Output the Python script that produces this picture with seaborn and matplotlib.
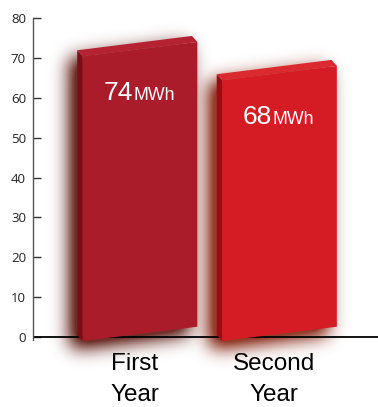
import numpy as np
import pandas as pd
import seaborn as sns
import matplotlib
matplotlib.use("Agg")
import matplotlib.pyplot as plt
from matplotlib.patches import Polygon
from matplotlib.path import Path

# --- data -------------------------------------------------------------
categories = ["First\nYear", "Second\nYear"]
energy_mwh = [74, 68]
unit = "MWh"
y_ticks = [0, 10, 20, 30, 40, 50, 60, 70, 80]

front_colors = ["#AB1C2B", "#D51C24"]
side_colors = ["#7E0C17", "#9E0A12"]
top_colors = ["#B52231", "#DA2A30"]
shadow_colors = [(0.40, 0.15, 0.12), (0.55, 0.20, 0.13)]

df = pd.DataFrame({"period": categories, "energy": energy_mwh})

sns.set_theme(style="white")
plt.rcParams["font.family"] = ["Liberation Sans", "DejaVu Sans"]

W, H, DPI = 378, 407, 100
fig = plt.figure(figsize=(W / DPI, H / DPI), dpi=DPI)
ax = fig.add_axes([33 / W, 38 / H, (W - 33) / W, (369 - 18) / H])

XMIN, XMAX, YMIN, YMAX = -0.767, 1.706, -8, 80

sns.barplot(data=df, x="period", y="energy", hue="period",
            palette=front_colors, width=0.822, legend=False, ax=ax)
ax.set_xlim(XMIN, XMAX)
ax.set_ylim(YMIN, YMAX)

# box geometry (data units): slant of the faces and depth of the box
slant = 3.6
base = -1.0
depth_dx, depth_dy = -0.039, 1.5

# pixel grid for the soft drop shadow
nx, ny = W - 33, 369 - 18
gx = np.linspace(XMIN, XMAX, nx)
gy = np.linspace(YMIN, YMAX, ny)
GX, GY = np.meshgrid(gx, gy)
pts = np.column_stack([GX.ravel(), GY.ravel()])
px_x = (XMAX - XMIN) / nx
px_y = (YMAX - YMIN) / ny


def blur(img, sigma):
    r = int(3 * sigma)
    k = np.exp(-0.5 * (np.arange(-r, r + 1) / sigma) ** 2)
    k /= k.sum()
    img = np.apply_along_axis(lambda m: np.convolve(m, k, mode="same"), 0, img)
    img = np.apply_along_axis(lambda m: np.convolve(m, k, mode="same"), 1, img)
    return img


shadow_rgb = np.zeros((ny, nx, 3))
shadow_w = np.zeros((ny, nx))
shadow_a = np.zeros((ny, nx))

for i, patch in enumerate(list(ax.patches)):
    x0 = patch.get_x()
    x1 = x0 + patch.get_width()
    v = patch.get_height()
    patch.set_visible(False)

    bl = (x0, base)
    br = (x1, base + slant)
    tr = (x1, v)
    tl = (x0, v - slant)
    d = np.array([depth_dx, depth_dy])
    bl_b = tuple(np.array(bl) + d)
    tl_b = tuple(np.array(tl) + d)
    tr_b = tuple(np.array(tr) + d)

    # drop shadow: box outline shifted left/down, then blurred
    outline = np.array([bl, br, tr, tr_b, tl_b, bl_b])
    sh = outline + np.array([-8 * px_x, -8 * px_y])
    mask = Path(sh).contains_points(pts).reshape(ny, nx).astype(float)
    a = np.clip(blur(mask, 9.0) * 1.35, 0, 0.95)
    shadow_rgb += a[..., None] * np.array(shadow_colors[i])
    shadow_w += a
    shadow_a = 1 - (1 - shadow_a) * (1 - a)

    ax.add_patch(Polygon([bl, tl, tl_b, bl_b], closed=True,
                         facecolor=side_colors[i], edgecolor="none", zorder=3))
    ax.add_patch(Polygon([tl, tr, tr_b, tl_b], closed=True,
                         facecolor=top_colors[i], edgecolor="none", zorder=3))
    ax.add_patch(Polygon([bl, br, tr, tl], closed=True,
                         facecolor=front_colors[i], edgecolor="none", zorder=4))

    # value label: number followed by a smaller unit
    cx = (x0 + x1) / 2
    jx = cx - 0.052
    ax.text(jx, v - 14.6, f"{energy_mwh[i]}", color="white", fontsize=19,
            ha="right", va="baseline", zorder=5)
    ax.text(jx + 0.002, v - 14.6, unit, color="white", fontsize=12.8,
            ha="left", va="baseline", zorder=5)

    # category label under the bar
    for j, line in enumerate(categories[i].split("\n")):
        ax.text(cx - 0.04, -8.2 - j * 7.9, line, fontsize=17.5,
                color="black", ha="center", va="baseline", clip_on=False)

rgba = np.zeros((ny, nx, 4))
rgba[..., :3] = np.clip(shadow_rgb / np.maximum(shadow_w, 1e-9)[..., None], 0, 1)
rgba[..., 3] = shadow_a
ax.imshow(rgba, extent=(XMIN, XMAX, YMIN, YMAX), origin="lower",
          aspect="auto", interpolation="bilinear", zorder=1)

ax.axhline(0, color="black", lw=1.3, zorder=2)

ax.set_xticks([])
ax.set_xlabel("")
ax.set_ylabel("")
ax.set_yticks(y_ticks)
ax.set_yticklabels([str(t) for t in y_ticks], fontfamily="Open Sans",
                   fontsize=9.5, color="#222222")
ax.tick_params(axis="y", direction="in", length=6, width=1,
               color="#333333", pad=5, left=True)
for s in ["top", "right", "bottom"]:
    ax.spines[s].set_visible(False)
ax.spines["left"].set_color("#555555")
ax.spines["left"].set_linewidth(1)
ax.spines["left"].set_bounds(-0.8, 80)
ax.set_facecolor("white")

fig.savefig("out.png", dpi=DPI, facecolor="white")
